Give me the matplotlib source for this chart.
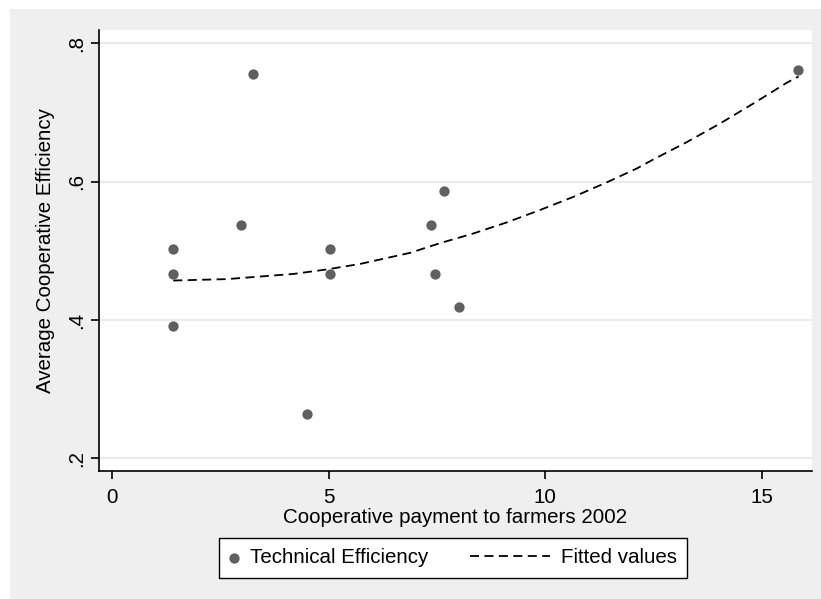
import matplotlib
matplotlib.use('Agg')
import matplotlib.pyplot as plt
from matplotlib.patches import Rectangle
from matplotlib.legend_handler import HandlerLine2D

# scatter: cooperative payment vs average efficiency
payment = [1.41, 1.41, 1.41, 2.98, 3.27, 4.51, 5.04, 5.04, 7.36, 7.46, 7.67, 8.0, 15.83]
efficiency = [0.503, 0.466, 0.391, 0.537, 0.755, 0.264, 0.503, 0.466, 0.537, 0.466, 0.586, 0.419, 0.761]

# fitted curve
fit_x = [1.42, 2.65, 4.19, 4.96, 5.73, 6.88, 7.57, 8.34, 9.11, 9.88, 10.65, 11.42, 12.11,
         12.49, 13.26, 14.03, 14.80, 15.57, 15.84]
fit_y = [0.457, 0.459, 0.4665, 0.473, 0.481, 0.497, 0.511, 0.525, 0.541, 0.559, 0.578, 0.599, 0.619,
         0.632, 0.657, 0.684, 0.713, 0.743, 0.752]

x_ticks = [0, 5, 10, 15]
y_ticks = [0.2, 0.4, 0.6, 0.8]
y_tick_labels = ['.2', '.4', '.6', '.8']

W, H = 821, 599
plt.rcParams['font.family'] = ['Liberation Sans', 'DejaVu Sans']
fs = 14.8

fig = plt.figure(figsize=(W / 100, H / 100), dpi=100, facecolor='white')
fig.patches.append(Rectangle((10 / W, 0), 1 - 10 / W, 1 - 9 / H, transform=fig.transFigure,
                             facecolor='#efefef', edgecolor='none', zorder=-10))

ax = fig.add_axes([99 / W, 1 - 471 / H, (812 - 99) / W, (471 - 30) / H])
ax.set_facecolor('white')
ax.set_xlim(-0.293, 16.15)
ax.set_ylim(0.1816, 0.8192)

for s in ['top', 'right']:
    ax.spines[s].set_visible(False)
for s in ['left', 'bottom']:
    ax.spines[s].set_linewidth(1.2)
    ax.spines[s].set_color('black')

ax.set_yticks(y_ticks)
ax.set_yticklabels(y_tick_labels, rotation=90, va='center')
ax.set_xticks(x_ticks)
ax.tick_params(axis='both', direction='out', length=5.8, width=1.2, labelsize=fs, colors='black')
ax.tick_params(axis='x', pad=6.5)
ax.tick_params(axis='y', pad=3.5)
ax.grid(axis='y', color='#e8e8e8', linewidth=1.2)
ax.set_axisbelow(True)

sc = ax.scatter(payment, efficiency, s=55, color='#606060', zorder=3, linewidths=0,
                label='Technical Efficiency')
ln, = ax.plot(fit_x, fit_y, color='black', linestyle=(0, (5, 3)), linewidth=1.3, zorder=2,
              label='Fitted values')

ax.set_xlabel('Cooperative payment to farmers 2002', fontsize=fs, labelpad=1)
ax.set_ylabel('Average Cooperative Efficiency', fontsize=fs, labelpad=9)

# legend units are points, so the dash handle is widened with a negative xpad
leg = fig.legend(handles=[sc, ln], loc='upper left', bbox_to_anchor=(219 / W, 1 - 538 / H),
                 borderaxespad=0, ncol=2, fontsize=fs, frameon=True, fancybox=False,
                 edgecolor='black', framealpha=1, handlelength=0.5, handletextpad=0.53,
                 columnspacing=5.4, borderpad=0.5, scatterpoints=1,
                 handler_map={ln: HandlerLine2D(xpad=-3.4)})
leg.get_frame().set_linewidth(1.0)

fig.savefig('out.png', dpi=100, facecolor=fig.get_facecolor())
